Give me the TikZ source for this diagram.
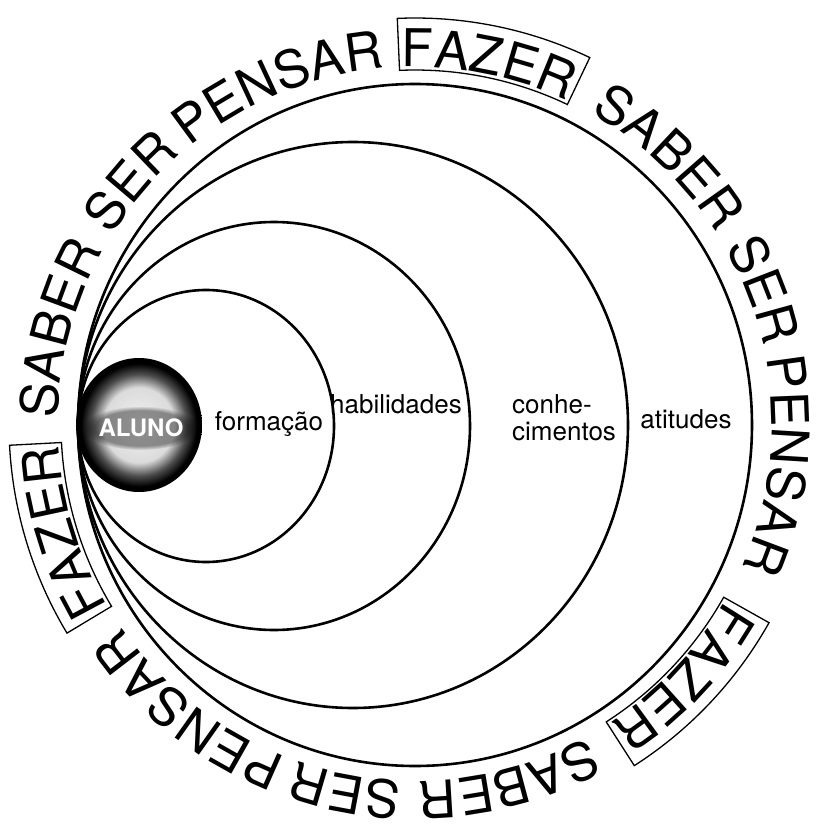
\documentclass[tikz,border=0pt]{standalone}
\usepackage{fontspec}
\setmainfont{TeX Gyre Heros}
\usetikzlibrary{decorations.text,fadings}
\newcommand{\ringfont}{\fontsize{52}{52}\selectfont}
\pgfdeclareradialshading{alunoball}{\pgfpoint{0bp}{0bp}}{color(0bp)=(gray!10); color(14bp)=(gray!28); color(19bp)=(gray!60!black); color(23bp)=(black); color(50bp)=(black)}
\tikzset{
  ring/.style={draw=black, line width=2.6pt},
  wordbox/.style={draw=black, line width=1.3pt},
  lbl/.style={font=\fontsize{26}{28}\selectfont, inner sep=0pt, anchor=base},
  ringword/.style={decorate, decoration={text along path, text align=center, text={|\ringfont|#1}}}
}

\begin{document}
\begin{tikzpicture}[x=1pt,y=1pt]
  \useasboundingbox (-415,-407) rectangle (403,424);
  \draw[ring] (0,-1) ellipse [x radius=337pt, y radius=341pt];
  \draw[ring] (-62,-1) ellipse [x radius=275pt, y radius=283pt];
  \draw[ring] (-141,-2) ellipse [x radius=196pt, y radius=204pt];
  \draw[ring] (-209,-2) ellipse [x radius=128pt, y radius=136pt];

  \shade[shading=alunoball] (-276,-1) ellipse [x radius=63pt, y radius=67pt];
  \fill[black, opacity=.4, path fading=circle with fuzzy edge 20 percent] (-274,-4) ellipse [x radius=58pt, y radius=22pt];
  \node[font=\bfseries\fontsize{24}{24}\selectfont, text=white, inner sep=0pt] (aluno) at (-274,-4) {ALUNO};

  \node[lbl] (formacao) at (-146,-6) {formação};
  \node[lbl] (habil) at (-19,11) {habilidades};
  \node[lbl, anchor=base west] (conhe) at (97,11) {conhe-};
  \node[lbl, anchor=base west] (cimen) at (97,-16) {cimentos};
  \node[lbl] (atit) at (271,-4) {atitudes};

  % words round the outside, read clockwise
  \foreach \g [evaluate=\g as \bl using \g+14, evaluate=\g as \br using \g-14] in {78.5,-43.3,-163}{
    \draw[wordbox] (\bl:354pt) arc[start angle=\bl, end angle=\br, radius=354pt]
      -- (\br:406pt) arc[start angle=\br, end angle=\bl, radius=406pt] -- cycle;
    \foreach \w/\o in {FAZER/0,SABER/-32,SER/-57.5,PENSAR/-85}{
      \pgfmathsetmacro\ws{\g+\o+35}
      \pgfmathsetmacro\we{\g+\o-35}
      \path[ringword=\w] (\ws:357pt) arc[start angle=\ws, end angle=\we, radius=357pt];
    }
  }
\end{tikzpicture}
\end{document}
